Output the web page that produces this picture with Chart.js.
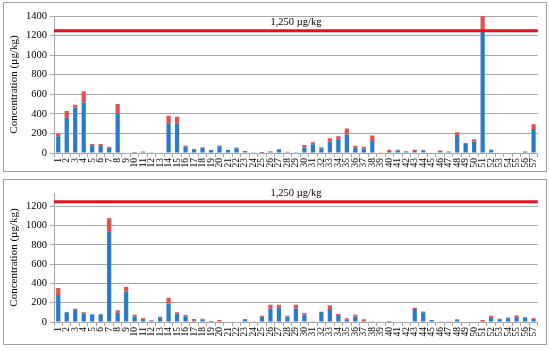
<!DOCTYPE html>
<html lang="en">
<head>
    <meta charset="UTF-8">
    <title>Concentration by sample</title>
    <script src="https://cdn.jsdelivr.net/npm/chart.js"></script>
    <style>
        body {
            margin: 0;
            background: #ffffff;
            width: 550px;
            height: 350px;
            position: relative;
            overflow: hidden;
        }
        .panel {
            position: absolute;
            left: 3px;
            width: 542px;
            border: 1px solid #a0a0a0;
        }
        #topPanel { top: 2px; height: 168px; }
        #bottomPanel { top: 179px; height: 164px; }
        canvas { display: block; }
    </style>
</head>
<body>
    <div class="panel" id="topPanel"><canvas id="topChart" width="542" height="168"></canvas></div>
    <div class="panel" id="bottomPanel"><canvas id="bottomChart" width="542" height="164"></canvas></div>

    <script>
        const samples = ['1','2','3','4','5','6','7','8','9','10','11','12','13','14','15','16','17','18','19','20',
            '21','22','23','24','25','26','27','28','29','30','31','32','33','34','35','36','37','38','39','40',
            '41','42','43','44','45','46','47','48','49','50','51','52','53','54','55','56','57'];

        // top panel
        const topBlue = [170,365,465,515,80,80,55,400,5,3,10,2,5,305,305,65,30,55,30,68,
            30,48,20,3,2,15,32,8,2,55,90,45,118,132,190,60,45,122,5,20,
            25,10,20,25,0,20,15,185,92,118,1258,32,0,0,0,15,245];
        const topRed = [30,65,28,115,12,12,8,100,0,5,5,0,0,75,65,12,12,3,0,8,
            0,8,0,0,8,3,10,5,0,28,20,15,32,38,60,14,18,58,3,12,
            8,8,12,5,0,5,0,28,10,22,157,0,5,0,0,0,50];

        // bottom panel
        const bottomBlue = [280,100,133,92,80,80,943,97,318,58,30,15,48,193,88,60,12,28,3,10,
            0,0,20,2,55,138,152,55,140,75,8,105,135,72,28,55,10,8,0,2,
            5,4,135,100,20,0,2,20,5,5,10,50,22,38,50,42,30];
        const bottomRed = [72,0,5,10,0,0,138,26,48,18,10,2,7,58,14,12,18,7,6,10,
            0,0,10,0,10,42,28,10,40,18,0,2,38,10,10,20,18,0,0,5,
            0,0,14,10,0,3,0,8,0,0,12,15,12,8,18,8,8];

        const limitValue = 1250;
        const limitLabel = '1,250 µg/kg';
        const yTitle = 'Concentration (µg/kg)';

        const serif = "'Liberation Serif', 'DejaVu Serif', serif";
        const gridGray = '#a6a6a6';

        // red limit line across the whole plot area
        const limitLine = {
            id: 'limitLine',
            afterDatasetsDraw(chart) {
                const { ctx, chartArea } = chart;
                const y = chart.scales.y.getPixelForValue(limitValue);
                ctx.save();
                ctx.strokeStyle = '#e3121b';
                ctx.lineWidth = 3;
                ctx.beginPath();
                ctx.moveTo(chartArea.left, y);
                ctx.lineTo(chartArea.right, y);
                ctx.stroke();
                ctx.fillStyle = '#000';
                ctx.font = '10.5px ' + serif;
                ctx.textAlign = 'center';
                ctx.textBaseline = 'bottom';
                ctx.fillText(limitLabel, (chartArea.left + chartArea.right) / 2, y - 3);
                ctx.restore();
            }
        };

        function makeChart(id, blue, red, yMax, topPad, xHeight) {
            return new Chart(document.getElementById(id), {
                type: 'bar',
                data: {
                    labels: samples,
                    datasets: [
                        { data: blue, backgroundColor: '#2a7cc6', categoryPercentage: 1, barPercentage: 0.5 },
                        { data: red, backgroundColor: '#e4504f', categoryPercentage: 1, barPercentage: 0.5 }
                    ]
                },
                options: {
                    responsive: false,
                    animation: false,
                    layout: { padding: { top: topPad, right: 3, left: 0, bottom: 0 } },
                    plugins: { legend: { display: false }, tooltip: { enabled: false } },
                    scales: {
                        x: {
                            stacked: true,
                            afterFit(s) { s.height = xHeight; },
                            grid: { drawOnChartArea: false, color: gridGray, tickLength: 4 },
                            border: { color: gridGray },
                            ticks: {
                                autoSkip: false, minRotation: 90, maxRotation: 90, padding: 1,
                                color: '#000', font: { family: serif, size: 9.5 }
                            }
                        },
                        y: {
                            stacked: true,
                            min: 0,
                            max: yMax,
                            afterFit(s) { s.width = 50; },
                            afterBuildTicks(s) { s.ticks = s.ticks.filter(t => t.value % 200 === 0); },
                            grid: { color: gridGray, tickLength: 4 },
                            border: { color: gridGray },
                            ticks: {
                                stepSize: 200, padding: 3, color: '#000',
                                font: { family: serif, size: 10.5 },
                                callback: v => String(v)
                            },
                            title: {
                                display: true, text: yTitle, color: '#000',
                                padding: { top: 4, bottom: 0 },
                                font: { family: serif, size: 11 }
                            }
                        }
                    }
                },
                plugins: [limitLine]
            });
        }

        makeChart('topChart', topBlue, topRed, 1400, 13, 18);
        makeChart('bottomChart', bottomBlue, bottomRed, 1340, 13, 22);
    </script>
</body>
</html>
